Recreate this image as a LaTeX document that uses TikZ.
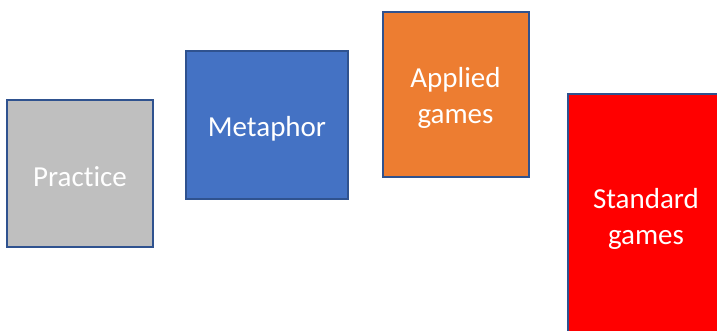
\documentclass[tikz,border=0pt]{standalone}
\usepackage{fontspec}
\setmainfont{Carlito}[RawFeature={-liga;-clig;-dlig;-hlig}]
\definecolor{edgeblue}{HTML}{2F528F}
\definecolor{pgrey}{HTML}{BFBFBF}
\definecolor{mblue}{HTML}{4472C4}
\definecolor{aorange}{HTML}{ED7D31}
\definecolor{sred}{HTML}{FF0000}
\tikzset{
  card/.style={draw=edgeblue, line width=2pt, inner sep=0pt},
  cardtext/.style={text=white, align=center, inner sep=0pt, yshift=-3pt,
    font=\fontsize{29}{36}\selectfont}
}
\begin{document}
\begin{tikzpicture}[x=1pt,y=-1pt]
\useasboundingbox (0,0) rectangle (717,331);
\clip (0,0) rectangle (717,331);
\fill[white] (0,0) rectangle (717,331);
\node[card, fill=pgrey, minimum width=146pt, minimum height=147pt,
  label={[cardtext]center:Practice}] (practice) at (80,173.5) {};
\node[card, fill=mblue, minimum width=162pt, minimum height=148pt,
  label={[cardtext]center:Metaphor}] (metaphor) at (267,125.5) {};
\node[card, fill=aorange, minimum width=146pt, minimum height=165pt,
  label={[cardtext]center:Applied\\games}] (applied) at (455.5,94.5) {};
\node[card, fill=sred, minimum width=156pt, minimum height=244pt,
  label={[cardtext]center:Standard\\games}] (standard) at (646,216) {};
\end{tikzpicture}
\end{document}
